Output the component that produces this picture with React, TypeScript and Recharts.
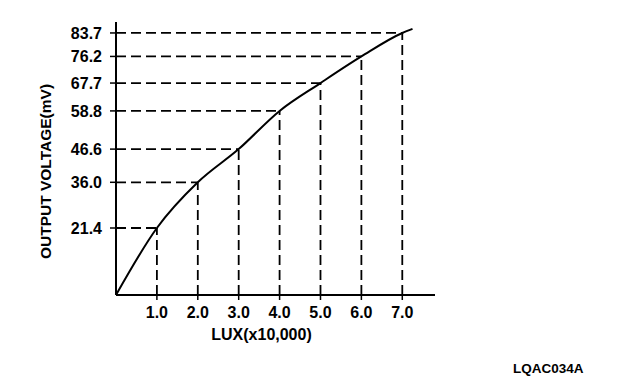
import React from 'react';
import { LineChart, Line, XAxis, YAxis, ReferenceLine } from 'recharts';

// curve (lux in units of 10,000, output in mV)
const lux = [0, 1, 2, 3, 4, 5, 6, 7, 7.25];
const voltage = [0, 21.4, 36.0, 46.6, 58.8, 67.7, 76.2, 83.7, 85.0];

// marked readings that get dashed guide lines
const markedLux = [1, 2, 3, 4, 5, 6, 7];
const markedVoltage = [21.4, 36.0, 46.6, 58.8, 67.7, 76.2, 83.7];

const xTicks = [1, 2, 3, 4, 5, 6, 7];
const yTicks = markedVoltage;

const data = lux.map((x, i) => ({ lux: x, mv: voltage[i] }));

const FONT = '"Liberation Sans", Arial, sans-serif';
const INK = '#000';

const XLabel = ({ viewBox }: any) => (
  <text
    x={viewBox.x + viewBox.width / 2 - 14}
    y={viewBox.y + 45}
    textAnchor="middle"
    fontFamily={FONT}
    fontWeight="bold"
    fontSize={16}
    fill={INK}
  >
    LUX(x10,000)
  </text>
);

const YLabel = ({ viewBox }: any) => {
  const cx = 45;
  const cy = viewBox.y + viewBox.height / 2 + 13;
  return (
    <text
      x={cx}
      y={cy}
      transform={`rotate(-90 ${cx} ${cy})`}
      textAnchor="middle"
      dominantBaseline="central"
      fontFamily={FONT}
      fontWeight="bold"
      fontSize={15.5}
      fill={INK}
    >
      OUTPUT VOLTAGE(mV)
    </text>
  );
};

export default function App() {
  return (
    <div style={{ position: 'absolute', left: 0, top: 0, width: 624, height: 390, background: '#fff' }}>
      <LineChart width={624} height={390} data={data} margin={{ top: 22, right: 189, left: 0, bottom: 0 }}>
        <XAxis
          dataKey="lux"
          type="number"
          domain={[0, 7.8]}
          ticks={xTicks}
          interval={0}
          tickFormatter={(v: number) => v.toFixed(1)}
          height={95}
          axisLine={{ stroke: INK, strokeWidth: 2 }}
          tickLine={{ stroke: INK, strokeWidth: 1.5 }}
          tickSize={5}
          tickMargin={7}
          tick={{ fill: INK, fontFamily: FONT, fontWeight: 'bold', fontSize: 16 }}
          label={<XLabel />}
        />
        <YAxis
          type="number"
          domain={[0, 87.2]}
          ticks={yTicks}
          interval={0}
          tickFormatter={(v: number) => v.toFixed(1)}
          width={116}
          axisLine={{ stroke: INK, strokeWidth: 2 }}
          tickLine={{ stroke: INK, strokeWidth: 1.5 }}
          tickSize={6}
          tickMargin={8}
          tick={{ fill: INK, fontFamily: FONT, fontWeight: 'bold', fontSize: 16 }}
          label={<YLabel />}
        />
        {markedLux.map((x, i) => (
          <ReferenceLine
            key={`h${i}`}
            segment={[{ x: 0, y: markedVoltage[i] }, { x, y: markedVoltage[i] }]}
            stroke={INK}
            strokeWidth={1.8}
            strokeDasharray="10 5"
          />
        ))}
        {markedLux.map((x, i) => (
          <ReferenceLine
            key={`v${i}`}
            segment={[{ x, y: 0 }, { x, y: markedVoltage[i] }]}
            stroke={INK}
            strokeWidth={1.8}
            strokeDasharray="10 5"
          />
        ))}
        <Line
          type="monotone"
          dataKey="mv"
          stroke={INK}
          strokeWidth={2}
          dot={false}
          isAnimationActive={false}
        />
      </LineChart>
      <div
        style={{
          position: 'absolute',
          left: 513,
          top: 362,
          fontFamily: FONT,
          fontWeight: 'bold',
          fontSize: 13.5,
          color: INK,
          lineHeight: 1,
        }}
      >
        LQAC034A
      </div>
    </div>
  );
}
